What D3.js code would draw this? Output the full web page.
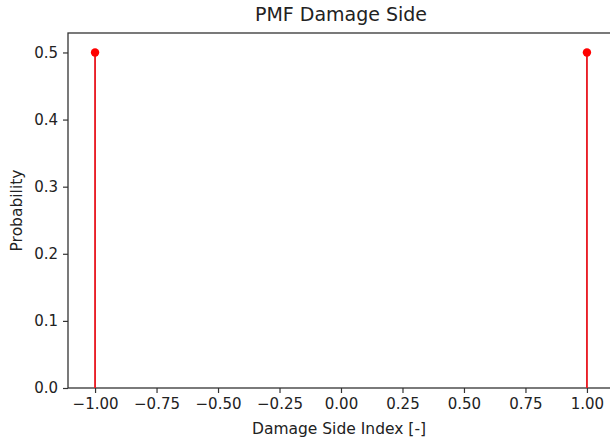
<!DOCTYPE html>
<html>
<head>
<meta charset="utf-8">
<script src="https://cdn.jsdelivr.net/npm/d3@7"></script>
<style>
  body { margin: 0; background: #fff; }
  text { font-family: 'DejaVu Sans', sans-serif; fill: #222; }
</style>
</head>
<body>
<div id="chart"></div>
<script>
// data
const sideIndex = [-1, 1]
const probability = [0.5, 0.5]
const xTicks = [-1.0, -0.75, -0.5, -0.25, 0.0, 0.25, 0.5, 0.75, 1.0]
const yTicks = [0.0, 0.1, 0.2, 0.3, 0.4, 0.5]

const width = 610
const height = 443
const padLeft = 68
const padRight = 614
const padTop = 33
const padBottom = 388

let svg = d3.select('#chart')
            .append('svg')
            .attr('width', width)
            .attr('height', height)

// scales
let xScale = d3.scaleLinear()
    .domain([-1.11, 1.11])
    .range([padLeft, padRight])

let yScale = d3.scaleLinear()
    .domain([0, 0.529])
    .range([padBottom, padTop])

// axes
let xAxis = d3.axisBottom(xScale)
    .tickValues(xTicks)
    .tickSize(5)
    .tickPadding(5)
    .tickFormat(d => d3.format('.2f')(d).replace('-', '\u2212'))

let yAxis = d3.axisLeft(yScale)
    .tickValues(yTicks)
    .tickSize(5)
    .tickPadding(5)
    .tickFormat(d3.format('.1f'))

let gx = svg.append('g')
    .attr('transform', 'translate(0,' + padBottom + ')')
    .call(xAxis)
gx.select('.domain').remove()

let gy = svg.append('g')
    .attr('transform', 'translate(' + padLeft + ',0)')
    .call(yAxis)
gy.select('.domain').remove()

svg.selectAll('.tick line').attr('stroke', '#333').attr('stroke-width', 1.2)
svg.selectAll('.tick text')
    .attr('font-family', 'DejaVu Sans')
    .attr('font-size', 15)
    .attr('fill', '#222')

// spines
svg.append('rect')
    .attr('x', padLeft)
    .attr('y', padTop)
    .attr('width', padRight - padLeft)
    .attr('height', padBottom - padTop)
    .attr('fill', 'none')
    .attr('stroke', '#333')
    .attr('stroke-width', 1.3)

// stems
let pts = sideIndex.map((x, i) => [x, probability[i]])

svg.append('g').selectAll('line')
    .data(pts)
    .enter()
    .append('line')
    .attr('x1', d => xScale(d[0]))
    .attr('x2', d => xScale(d[0]))
    .attr('y1', yScale(0))
    .attr('y2', d => yScale(d[1]))
    .attr('stroke', '#e8141c')
    .attr('stroke-width', 1.8)

svg.append('g').selectAll('circle')
    .data(pts)
    .enter()
    .append('circle')
    .attr('cx', d => xScale(d[0]))
    .attr('cy', d => yScale(d[1]))
    .attr('r', 4.2)
    .attr('fill', '#f00')

// labels
svg.append('text')
    .attr('x', (padLeft + padRight) / 2)
    .attr('y', 21)
    .attr('text-anchor', 'middle')
    .attr('font-size', 19)
    .text('PMF Damage Side')

svg.append('text')
    .attr('x', (padLeft + padRight) / 2 - 2)
    .attr('y', 434)
    .attr('text-anchor', 'middle')
    .attr('font-size', 15.5)
    .text('Damage Side Index [-]')

svg.append('text')
    .attr('transform', 'translate(22,' + ((padTop + padBottom) / 2) + ') rotate(-90)')
    .attr('text-anchor', 'middle')
    .attr('font-size', 15.5)
    .text('Probability')
</script>
</body>
</html>
